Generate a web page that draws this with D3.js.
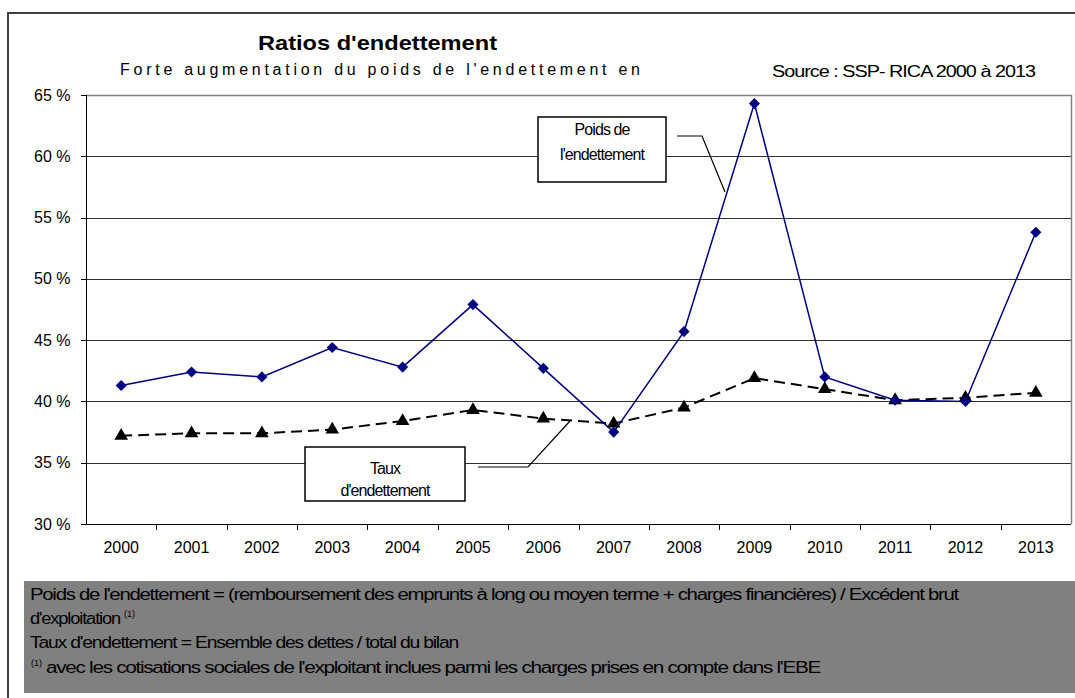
<!DOCTYPE html>
<html lang="fr">
<head>
<meta charset="UTF-8">
<title>Ratios d'endettement</title>
<script src="https://d3js.org/d3.v7.min.js"></script>
<style>
    body { margin: 0; background: #fff; }
    svg text { font-family: "Liberation Sans", Arial, sans-serif; fill: #000; }
    .grid line { stroke: #303030; stroke-width: 1px; }
    .axis path, .axis line { stroke: #000; shape-rendering: crispEdges; }
    .axis text { font-size: 16px; }
</style>
</head>
<body>
<svg width="1075" height="698"></svg>
<script>
    const years = ["2000", "2001", "2002", "2003", "2004", "2005", "2006",
                   "2007", "2008", "2009", "2010", "2011", "2012", "2013"];
    const poids = [41.3, 42.4, 42.0, 44.4, 42.8, 47.9, 42.7, 37.5, 45.7, 64.3, 42.0, 40.1, 40.0, 53.8];
    const taux  = [37.2, 37.4, 37.4, 37.7, 38.4, 39.3, 38.6, 38.2, 39.5, 41.9, 41.0, 40.1, 40.3, 40.7];
    const yTicks = [30, 35, 40, 45, 50, 55, 60, 65];

    const notes = [
        "Poids de l'endettement = (remboursement des emprunts à long ou moyen terme + charges financières) / Excédent brut",
        "d'exploitation",
        "Taux d'endettement = Ensemble des dettes / total du bilan",
        "avec les cotisations sociales de l'exploitant inclues parmi les charges prises en compte dans l'EBE"
    ];

    const svg = d3.select("svg");
    const plot = { left: 86, right: 1071, top: 95, bottom: 524 };

    // cadre extérieur
    svg.append("rect")
        .attr("x", 8).attr("y", 13).attr("width", 1100).attr("height", 720)
        .attr("fill", "none").attr("stroke", "#404040").attr("stroke-width", 2);

    const x = d3.scaleBand().domain(years).range([plot.left, plot.right]);
    const y = d3.scaleLinear().domain([30, 65]).range([plot.bottom, plot.top]);
    const cx = d => x(d) + x.bandwidth() / 2;

    // grille
    svg.append("g").attr("class", "grid")
        .selectAll("line")
        .data(yTicks.filter(t => t > 30 && t < 65))
        .join("line")
        .attr("x1", plot.left).attr("x2", plot.right)
        .attr("y1", d => Math.round(y(d)) + 0.5).attr("y2", d => Math.round(y(d)) + 0.5);

    // bord haut et droit de la zone de tracé
    svg.append("path")
        .attr("d", `M${plot.left},${plot.top + 0.5}H${plot.right + 0.5}V${plot.bottom}`)
        .attr("fill", "none").attr("stroke", "#808080").attr("stroke-width", 1.5);

    // axe Y
    const yAxis = svg.append("g").attr("class", "axis")
        .attr("transform", `translate(${plot.left + 0.5},0)`)
        .call(d3.axisLeft(y).tickValues(yTicks).tickSize(6).tickPadding(10)
            .tickFormat(d => d + " %"));
    yAxis.select(".domain").attr("d", `M0,${plot.top}V${plot.bottom}`);

    // axe X (graduations entre les catégories)
    const xAxis = svg.append("g").attr("class", "axis")
        .attr("transform", `translate(0,${plot.bottom + 0.5})`)
        .call(d3.axisBottom(x).tickSize(0).tickPadding(17));
    xAxis.select(".domain").attr("d", `M${plot.left},0H${plot.right}`);
    xAxis.selectAll(".sep")
        .data(years.slice(1))
        .join("line")
        .attr("class", "sep")
        .attr("x1", d => Math.round(x(d)) + 0.5).attr("x2", d => Math.round(x(d)) + 0.5)
        .attr("y1", 0).attr("y2", 5)
        .attr("stroke", "#000");

    // séries
    const line = d3.line().x((d, i) => cx(years[i])).y(d => y(d));

    svg.append("path").datum(taux)
        .attr("d", line)
        .attr("fill", "none").attr("stroke", "#000").attr("stroke-width", 2)
        .attr("stroke-dasharray", "11,6");

    svg.append("path").datum(poids)
        .attr("d", line)
        .attr("fill", "none").attr("stroke", "#000080").attr("stroke-width", 1.5);

    svg.append("g").selectAll("path")
        .data(taux)
        .join("path")
        .attr("d", d3.symbol(d3.symbolTriangle, 80))
        .attr("transform", (d, i) => `translate(${cx(years[i])},${y(d)})`)
        .attr("fill", "#000");

    svg.append("g").selectAll("path")
        .data(poids)
        .join("path")
        .attr("d", d3.symbol(d3.symbolSquare, 62))
        .attr("transform", (d, i) => `translate(${cx(years[i])},${y(d)}) rotate(45)`)
        .attr("fill", "#000080");

    // titres
    svg.append("text")
        .attr("x", 258).attr("y", 50)
        .attr("font-size", 21).attr("font-weight", "bold")
        .attr("textLength", 239).attr("lengthAdjust", "spacingAndGlyphs")
        .text("Ratios d'endettement");

    svg.append("text")
        .attr("x", 120).attr("y", 75)
        .attr("font-size", 16)
        .attr("textLength", 520).attr("lengthAdjust", "spacing")
        .text("Forte augmentation du poids de l'endettement en");

    svg.append("text")
        .attr("x", 772).attr("y", 77)
        .attr("font-size", 16).attr("letter-spacing", -0.8)
        .attr("textLength", 263).attr("lengthAdjust", "spacingAndGlyphs")
        .text("Source : SSP- RICA 2000 à 2013");

    // étiquettes avec trait de rappel
    function callout(box, lines, offsets, leader) {
        svg.append("path")
            .attr("d", d3.line()(leader))
            .attr("fill", "none").attr("stroke", "#000").attr("stroke-width", 1.2);
        svg.append("rect")
            .attr("x", box[0]).attr("y", box[1]).attr("width", box[2]).attr("height", box[3])
            .attr("fill", "#fff").attr("stroke", "#000").attr("stroke-width", 1.5);
        lines.forEach((t, i) => {
            svg.append("text")
                .attr("x", box[0] + box[2] / 2).attr("y", box[1] + offsets[i])
                .attr("text-anchor", "middle").attr("font-size", 16)
                .attr("letter-spacing", -0.9)
                .text(t);
        });
    }
    callout([538, 117, 128, 65], ["Poids de", "l'endettement"], [18, 43],
        [[677, 136], [702, 136], [725, 192]]);
    callout([305, 447, 160, 54], ["Taux", "d'endettement"], [27, 49],
        [[478, 467], [528, 467], [570, 421]]);

    // encadré des définitions
    svg.append("rect")
        .attr("x", 24).attr("y", 581).attr("width", 1060).attr("height", 112)
        .attr("fill", "#808080");

    const noteX = [30, 30, 30, 46];
    const noteY = [600, 624, 648, 673];
    const noteLen = [928, 90, 428, 774];
    notes.forEach((t, i) => {
        svg.append("text")
            .attr("x", noteX[i]).attr("y", noteY[i])
            .attr("font-size", 16).attr("letter-spacing", -1)
            .attr("textLength", noteLen[i]).attr("lengthAdjust", "spacingAndGlyphs")
            .text(t);
    });
    // renvois (1)
    svg.append("text").attr("x", 124).attr("y", 617).attr("font-size", 9).text("(1)");
    svg.append("text").attr("x", 31).attr("y", 666).attr("font-size", 9).text("(1)");
</script>
</body>
</html>
